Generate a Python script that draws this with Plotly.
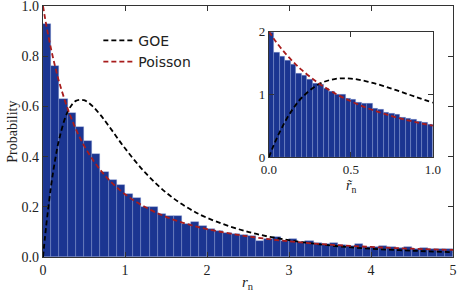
import numpy as np
import plotly.graph_objects as go

# ---- main histogram (bins of width 0.1 on [0,5]) ----
main_bin_width = 0.1
main_hist = [0.93, 0.762, 0.63, 0.573, 0.517, 0.464, 0.411, 0.339, 0.308, 0.286,
             0.25, 0.237, 0.200, 0.201, 0.171, 0.164, 0.164, 0.133, 0.139, 0.123,
             0.112, 0.104, 0.094, 0.091, 0.087, 0.085, 0.065, 0.070, 0.081, 0.065,
             0.070, 0.060, 0.062, 0.054, 0.052, 0.057, 0.048, 0.043, 0.051, 0.041,
             0.038, 0.044, 0.038, 0.036, 0.041, 0.033, 0.036, 0.033, 0.031, 0.031]

# ---- curves ----
main_r = [0, 0.025, 0.05, 0.1, 0.15, 0.2, 0.3, 0.4, 0.5, 0.6, 0.7, 0.8, 1.0,
          1.25, 1.5, 1.75, 2.0, 2.5, 3.0, 3.5, 4.0, 4.5, 5.0]
main_goe = [0, 0.081, 0.156, 0.286, 0.391, 0.473, 0.578, 0.622, 0.625, 0.602, 0.566,
            0.523, 0.433, 0.335, 0.257, 0.199, 0.156, 0.100, 0.067, 0.046, 0.033,
            0.025, 0.019]
main_poisson = [1.0, 0.952, 0.907, 0.826, 0.756, 0.694, 0.592, 0.510, 0.444, 0.391,
                0.346, 0.309, 0.25, 0.198, 0.16, 0.132, 0.111, 0.082, 0.0625, 0.049,
                0.040, 0.033, 0.028]

# ---- inset histogram (30 bins on [0,1]) ----
inset_bin_width = 1 / 30
inset_hist = [1.98, 1.67, 1.60, 1.535, 1.48, 1.33, 1.30, 1.23, 1.165, 1.155,
              1.085, 1.04, 0.995, 0.995, 0.94, 0.91, 0.875, 0.85, 0.85, 0.77,
              0.75, 0.714, 0.70, 0.673, 0.635, 0.61, 0.593, 0.571, 0.55, 0.519]
inset_r = [0, 0.025, 0.05, 0.1, 0.15, 0.2, 0.3, 0.4, 0.5, 0.6, 0.7, 0.8, 0.9, 1.0]
inset_goe = [0, 0.162, 0.312, 0.572, 0.782, 0.946, 1.156, 1.244, 1.25, 1.204,
             1.132, 1.045, 0.955, 0.866]
inset_poisson = [2.0, 1.904, 1.814, 1.653, 1.512, 1.389, 1.183, 1.020, 0.889, 0.781,
                 0.692, 0.617, 0.554, 0.5]

BAR = '#1b3591'
EDGE = 'rgba(140,160,215,0.55)'
RED = '#a81c1c'
SERIF = 'Liberation Serif'

fig = go.Figure()

main_x = np.arange(len(main_hist)) * main_bin_width + main_bin_width / 2
fig.add_trace(go.Bar(x=main_x, y=main_hist, width=main_bin_width,
                     marker=dict(color=BAR, line=dict(color=EDGE, width=0.6)),
                     showlegend=False, xaxis='x', yaxis='y'))
fig.add_trace(go.Scatter(x=main_r, y=main_goe, mode='lines', name='GOE',
                         line=dict(color='black', width=1.8, dash='5px,3px', shape='spline'),
                         xaxis='x', yaxis='y'))
fig.add_trace(go.Scatter(x=main_r, y=main_poisson, mode='lines', name='Poisson',
                         line=dict(color=RED, width=1.8, dash='5px,3px', shape='spline'),
                         xaxis='x', yaxis='y'))

inset_x = np.arange(len(inset_hist)) * inset_bin_width + inset_bin_width / 2
fig.add_trace(go.Bar(x=inset_x, y=inset_hist, width=inset_bin_width,
                     marker=dict(color=BAR, line=dict(color=EDGE, width=0.6)),
                     showlegend=False, xaxis='x2', yaxis='y2'))
fig.add_trace(go.Scatter(x=inset_r, y=inset_goe, mode='lines', showlegend=False,
                         line=dict(color='black', width=1.8, dash='5px,3px', shape='spline'),
                         xaxis='x2', yaxis='y2'))
fig.add_trace(go.Scatter(x=inset_r, y=inset_poisson, mode='lines', showlegend=False,
                         line=dict(color=RED, width=1.8, dash='5px,3px', shape='spline'),
                         xaxis='x2', yaxis='y2'))

axis_common = dict(showline=True, linecolor='#333', linewidth=1.2, mirror='ticks',
                   ticks='inside', ticklen=5, tickcolor='#333', showgrid=False,
                   zeroline=False, automargin=False, ticklabeloverflow='allow',
                   tickfont=dict(family=SERIF, size=14, color='#222'))
inset_axis = dict(axis_common, tickfont=dict(family=SERIF, size=13, color='#222'))

fig.update_layout(
    width=457, height=293,
    margin=dict(l=43, r=4, t=6, b=36, autoexpand=False),
    paper_bgcolor='white', plot_bgcolor='white',
    bargap=0,
    xaxis=dict(range=[0, 5], tickvals=[0, 1, 2, 3, 4, 5], ticktext=['0', '1', '2', '3', '4', '5'],
               domain=[0, 1], anchor='y', **axis_common),
    yaxis=dict(range=[0, 1], tickvals=[0, 0.2, 0.4, 0.6, 0.8, 1.0],
               ticktext=['0.0', '0.2', '0.4', '0.6', '0.8', '1.0'],
               domain=[0, 1], anchor='x', **axis_common),
    xaxis2=dict(range=[0, 1], tickvals=[0, 0.5, 1.0], ticktext=['0.0', '0.5', '1.0'],
                domain=[0.551, 0.951], anchor='y2', **inset_axis),
    yaxis2=dict(range=[0, 2], tickvals=[0, 1, 2], ticktext=['0', '1', '2'],
                domain=[0.398, 0.898], anchor='x2', **inset_axis),
    legend=dict(x=0.135, y=0.925, xanchor='left', yanchor='top',
                bgcolor='rgba(0,0,0,0)', font=dict(family='DejaVu Sans', size=14, color='#222'),
                tracegroupgap=2),
    annotations=[
        dict(text='<i>r</i><sub>n</sub>', xref='paper', yref='paper', x=0.5, y=-0.06,
             xanchor='center', yanchor='top', showarrow=False,
             font=dict(family=SERIF, size=15, color='#222')),
        dict(text='Probability', xref='paper', yref='paper', x=-0.075, y=0.5,
             xanchor='center', yanchor='middle', showarrow=False, textangle=-90,
             font=dict(family=SERIF, size=14, color='#222')),
        dict(text='<i>r\u0303</i><sub>n</sub>', xref='paper', yref='paper', x=0.751, y=0.322,
             xanchor='center', yanchor='top', showarrow=False,
             font=dict(family=SERIF, size=14, color='#222')),
    ],
)

fig.write_html('out.html', config={'displayModeBar': False},
               post_script="document.body.style.margin='0';")
